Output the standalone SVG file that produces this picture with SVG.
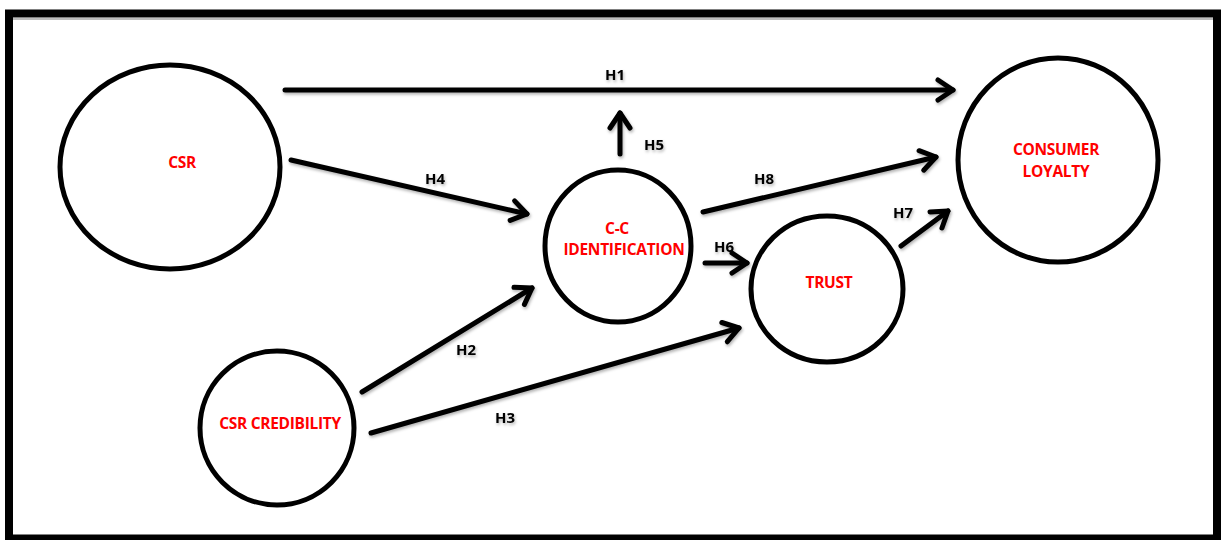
<svg xmlns="http://www.w3.org/2000/svg" width="1221" height="540" viewBox="0 0 1221 540">
<style>
.node{fill:#fff;stroke:#000;stroke-width:5}
.lbl{font-family:"Open Sans","Liberation Sans",sans-serif;font-weight:bold;font-size:15.5px;fill:#ff0000;text-anchor:middle;letter-spacing:-0.3px}
.h{font-family:"Open Sans","Liberation Sans",sans-serif;font-weight:bold;font-size:15px;fill:#000;text-anchor:middle}
.c{stroke:#000;stroke-width:5;fill:none;stroke-linecap:round;marker-end:url(#ah)}
</style>
<defs>
<marker id="ah" markerUnits="userSpaceOnUse" orient="auto" overflow="visible" markerWidth="20" markerHeight="20" refX="0" refY="0">
<path d="M-15,-10 L0,0 L-15,10" fill="none" stroke="#000" stroke-width="5" stroke-linecap="round" stroke-linejoin="round"/>
</marker>
<filter id="sh" x="-5%" y="-5%" width="110%" height="110%">
<feDropShadow dx="1" dy="2" stdDeviation="1.5" flood-color="#000" flood-opacity="0.3"/>
</filter>
</defs>
<rect x="0" y="0" width="1221" height="540" fill="#fff"/>
<rect id="frame" x="9" y="13.5" width="1208" height="525" fill="#fff" stroke="#000" stroke-width="8"/>
<line x1="13" y1="19" x2="1213" y2="19" stroke="#bbb" stroke-width="2"/>
<g id="connectors" filter="url(#sh)">
<line class="c" x1="285" y1="90" x2="953" y2="90"/>
<line class="c" x1="291" y1="160" x2="527" y2="214"/>
<line class="c" x1="620" y1="154" x2="620" y2="113"/>
<line class="c" x1="703" y1="212" x2="936" y2="157"/>
<line class="c" x1="901" y1="246" x2="948" y2="211"/>
<line class="c" x1="705" y1="263" x2="747" y2="263"/>
<line class="c" x1="362" y1="392" x2="532" y2="288"/>
<line class="c" x1="371" y1="433" x2="739" y2="328"/>
<text class="h" x="615" y="80">H1</text>
<text class="h" x="435" y="184">H4</text>
<text class="h" x="654" y="150">H5</text>
<text class="h" x="764" y="184">H8</text>
<text class="h" x="903" y="218">H7</text>
<text class="h" x="724" y="252">H6</text>
<text class="h" x="466" y="355">H2</text>
<text class="h" x="505" y="423">H3</text>
</g>
<g id="csr">
<ellipse class="node" cx="170" cy="167" rx="110" ry="102"/>
<text class="lbl" x="182" y="168">CSR</text>
</g>
<g id="loyalty">
<ellipse class="node" cx="1058" cy="160" rx="100" ry="102"/>
<text class="lbl" x="1056" y="155">CONSUMER</text>
<text class="lbl" x="1056" y="177">LOYALTY</text>
</g>
<g id="identification">
<ellipse class="node" cx="618" cy="246" rx="73" ry="76"/>
<text class="lbl" x="617" y="234">C-C</text>
<text class="lbl" x="624" y="255">IDENTIFICATION</text>
</g>
<g id="trust">
<ellipse class="node" cx="827" cy="289" rx="76" ry="73"/>
<text class="lbl" x="829" y="288">TRUST</text>
</g>
<g id="credibility">
<ellipse class="node" cx="277" cy="428" rx="77" ry="77"/>
<text class="lbl" x="280" y="429">CSR CREDIBILITY</text>
</g>
</svg>
